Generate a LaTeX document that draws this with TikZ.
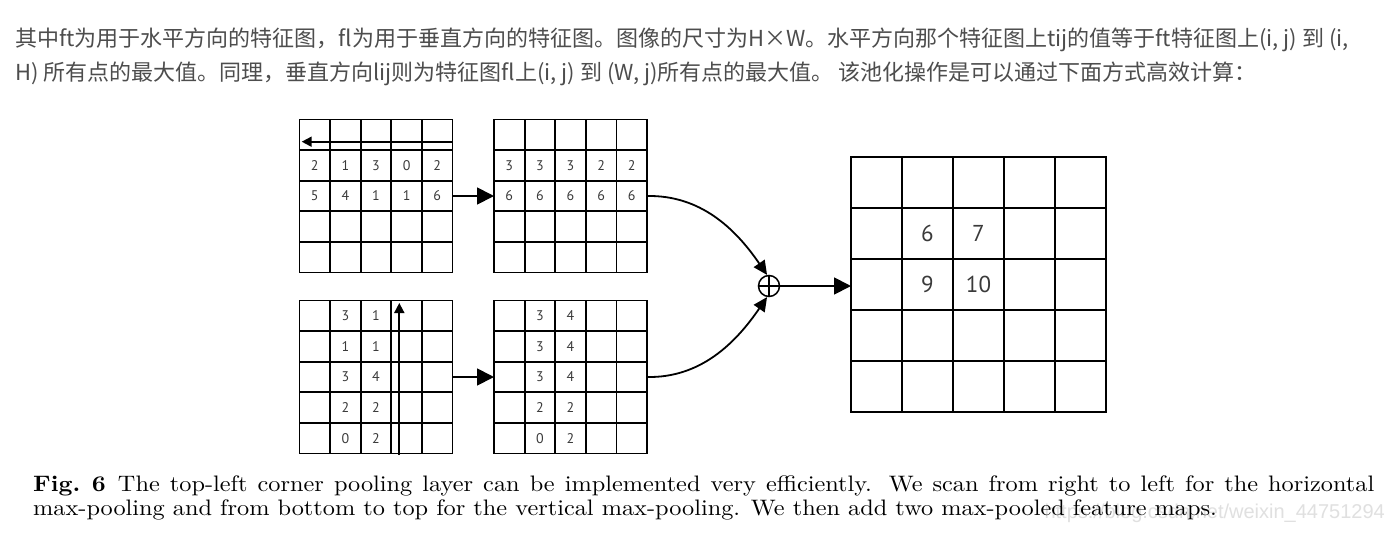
\documentclass[tikz,border=0pt]{standalone}
\usepackage{fontspec}
\usetikzlibrary{matrix,arrows.meta}
\newfontfamily\cjk{Noto Sans CJK SC}
\newfontfamily\numfont{PT Sans}
\newfontfamily\wmfont{Liberation Sans}
\definecolor{txtgray}{HTML}{4D4D4D}
\definecolor{numgray}{HTML}{3A3A3A}
\definecolor{wmgray}{HTML}{E0E0E0}
\tikzset{
  cellsmall/.style={draw, line width=1.8pt, minimum width=30.6pt, minimum height=30.6pt,
    inner sep=0pt, outer sep=0pt, anchor=center, text=numgray, font=\numfont\fontsize{14}{14}\selectfont},
  cellbig/.style={draw, line width=1.8pt, minimum width=51pt, minimum height=51pt,
    inner sep=0pt, outer sep=0pt, anchor=center, text=numgray, font=\numfont\fontsize{23}{23}\selectfont},
  fmap/.style={matrix of nodes, nodes in empty cells, anchor=north west, inner sep=0pt,
    outer sep=0pt, column sep=-1.8pt, row sep=-1.8pt, nodes={cellsmall}},
  resmap/.style={fmap, nodes={cellbig}},
  bigarrow/.style={line width=1.8pt, -{Triangle[length=17pt,width=17pt]}},
  curvearrow/.style={line width=1.8pt, -{Triangle[length=14pt,width=13pt]}},
  scanarrow/.style={line width=1.8pt, -{Triangle[length=10pt,width=10pt]}},
  header/.style={anchor=base west, inner sep=0pt, text=txtgray, font=\cjk\fontsize{22}{22}\selectfont},
  caption/.style={anchor=base west, inner sep=0pt, text=black},
}
\begin{document}
\begin{tikzpicture}[x=1pt,y=-1pt]
\useasboundingbox (0,0) rectangle (1400,536);
\fill[white] (0,0) rectangle (1400,536);

% header text
\node[header] (h1) at (15,46) {其中ft为用于水平方向的特征图，fl为用于垂直方向的特征图。图像的尺寸为H×W。水平方向那个特征图上tij的值等于ft特征图上(i, j) 到 (i,};
\node[header] (h2) at (15,80.5) {H) 所有点的最大值。同理，垂直方向lij则为特征图fl上(i, j) 到 (W, j)所有点的最大值。 该池化操作是可以通过下面方式高效计算：};

% feature maps
\matrix[fmap] (A) at (298.6,118.6) {
 & & & & \\
2 & 1 & 3 & 0 & 2 \\
5 & 4 & 1 & 1 & 6 \\
 & & & & \\
 & & & & \\
};
\matrix[fmap] (B) at (493.1,118.6) {
 & & & & \\
3 & 3 & 3 & 2 & 2 \\
6 & 6 & 6 & 6 & 6 \\
 & & & & \\
 & & & & \\
};
\matrix[fmap] (C) at (298.6,299.6) {
 & 3 & 1 & & \\
 & 1 & 1 & & \\
 & 3 & 4 & & \\
 & 2 & 2 & & \\
 & 0 & 2 & & \\
};
\matrix[fmap] (D) at (493.1,299.6) {
 & 3 & 4 & & \\
 & 3 & 4 & & \\
 & 3 & 4 & & \\
 & 2 & 2 & & \\
 & 0 & 2 & & \\
};
\matrix[resmap] (R) at (850.1,156.1) {
 & & & & \\
 & 6 & 7 & & \\
 & 9 & 10 & & \\
 & & & & \\
 & & & & \\
};

% scan arrows
\draw[scanarrow] ([yshift=8.4pt]A-1-5.south east) -- ([xshift=2.2pt,yshift=8.4pt]A-1-1.south west);
\draw[scanarrow] ([xshift=8pt,yshift=-1.5pt]C-5-4.south west) -- ([xshift=8pt,yshift=-2.5pt]C-1-4.north west);

% arrows between maps
\draw[bigarrow] (A-3-5.east) -- (B-3-1.west);
\draw[bigarrow] (C-3-5.east) -- (D-3-1.west);

% sum
\node[draw, circle, line width=1.5pt, minimum size=21pt, inner sep=0pt] (P) at (769,286) {};
\draw[line width=1.5pt] (P.north) -- (P.south) (P.west) -- (P.east);
\draw[curvearrow] (B-3-5.east) .. controls (700,195) and (735,228) .. (P.100);
\draw[curvearrow] (D-3-5.east) .. controls (700,378) and (735,344) .. (P.-100);
\draw[bigarrow] (P.east) -- (P.east -| R-3-1.west);

% watermark
\node[anchor=base east, inner sep=0pt, text=wmgray, font=\wmfont\fontsize{20}{20}\selectfont] (wm) at (1385,518) {https://blog.csdn.net/weixin\_44751294};

% caption
\node[caption] (c1) at (33,491) {\scalebox{2.43}[2.24]{\fontsize{10}{12}\selectfont\makebox[551.9pt][s]{\textbf{Fig.~6}\enspace The top-left corner pooling layer can be implemented very efficiently. We scan from right to left for the horizontal}}};
\node[caption] (c2) at (33,515) {\scalebox{2.43}[2.24]{\fontsize{10}{12}\selectfont max-pooling and from bottom to top for the vertical max-pooling. We then add two max-pooled feature maps.}};
\end{tikzpicture}
\end{document}
